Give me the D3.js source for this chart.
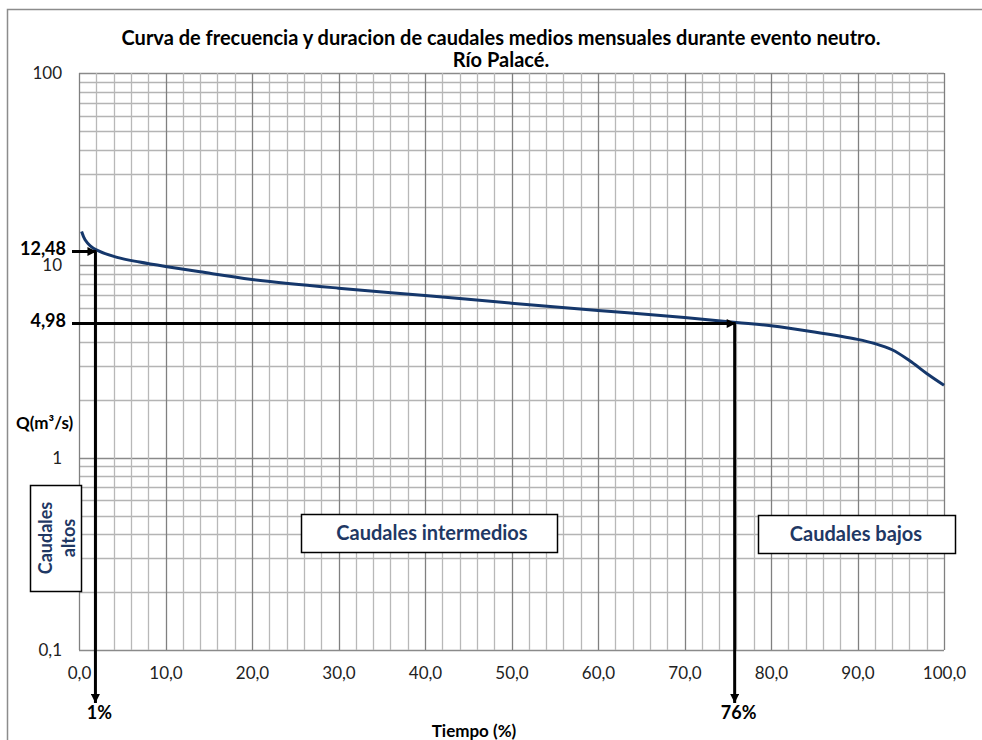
<!DOCTYPE html>
<html>
<head>
<meta charset="utf-8">
<script src="https://cdn.jsdelivr.net/npm/d3@7"></script>
<style>
  body { margin: 0; background: #fff; }
  text { font-family: Lato, "Noto Sans", sans-serif; }
</style>
</head>
<body>
<script>
// curve values
var tiempo = [0.3, 0.7, 1.3, 2, 4.4, 7, 10, 14, 20, 30, 40, 50, 60, 70, 76, 80, 85, 90, 92, 94, 96, 98, 100];
var caudal = [14.98, 13.57, 12.63, 12.03, 11.0, 10.4, 9.86, 9.25, 8.45, 7.61, 6.97, 6.36, 5.83, 5.36, 5.05, 4.85, 4.5, 4.12, 3.92, 3.64, 3.2, 2.74, 2.38];

// tick labels
var yTicks = [0.1, 1, 10, 100];
var xTicks = [0, 10, 20, 30, 40, 50, 60, 70, 80, 90, 100];

// annotation arrows (Q label, Q where drawn, % label, % where drawn)
var annotQLabel = ["12,48", "4,98"];
var annotQ = [11.8, 4.98];
var annotPctLabel = ["1%", "76%"];
var annotPct = [1.9, 75.8];

var titleLines = ["Curva de frecuencia y duracion de caudales medios mensuales durante evento neutro.", "Río Palacé."];

// set the dimensions and margins of the graph
var margin = {top: 73, right: 38, bottom: 90, left: 79},
    width = 944 - margin.left,
    height = 650 - margin.top;

var navy = "#1f3864";
var locale = d3.formatLocale({decimal: ",", thousands: ".", grouping: [3], currency: ["", ""]});

var root = d3.select("body")
  .append("svg")
    .attr("width", 982)
    .attr("height", 740);

// outer chart border
root.append("path")
  .attr("d", "M7.5,740 V9.5 H982")
  .attr("fill", "none")
  .attr("stroke", "#8c8c8c")
  .attr("stroke-width", 1.5);

var defs = root.append("defs");
defs.append("marker")
    .attr("id", "head")
    .attr("viewBox", "0 0 10 10")
    .attr("refX", 10)
    .attr("refY", 5)
    .attr("markerWidth", 11)
    .attr("markerHeight", 9)
    .attr("markerUnits", "userSpaceOnUse")
    .attr("orient", "auto")
  .append("path")
    .attr("d", "M0,0 L10,5 L0,10 Z")
    .attr("fill", "#000");

var svg = root.append("g")
    .attr("transform", "translate(" + margin.left + "," + margin.top + ")");

var x = d3.scaleLinear().domain([0, 100]).range([0, width]);
var y = d3.scaleLog().domain([0.1, 100]).range([height, 0]);

// grid
var hLines = [];
[0.1, 1, 10].forEach(function(dec) {
  for (var k = 1; k < 10; k++) hLines.push(dec * k);
});
hLines.push(100);

svg.append("g").selectAll("line")
  .data(hLines)
  .join("line")
    .attr("x1", 0)
    .attr("x2", width)
    .attr("y1", function(d) { return Math.round(y(d)) + 0.5; })
    .attr("y2", function(d) { return Math.round(y(d)) + 0.5; })
    .attr("stroke", function(d) { return yTicks.indexOf(+d.toPrecision(3)) >= 0 ? "#8a8a8a" : "#b4b4b4"; })
    .attr("stroke-width", 1.3);

svg.append("g").selectAll("line")
  .data(d3.range(0, 101, 2))
  .join("line")
    .attr("x1", function(d) { return Math.round(x(d)) + 0.5; })
    .attr("x2", function(d) { return Math.round(x(d)) + 0.5; })
    .attr("y1", 0)
    .attr("y2", height)
    .attr("stroke", function(d) { return d % 10 === 0 ? "#808080" : "#b8b8b8"; })
    .attr("stroke-width", 1.3);

// axes
var yAxis = svg.append("g")
  .call(d3.axisLeft(y).tickValues(yTicks).tickSize(0).tickPadding(17).tickFormat(locale.format("~g")));
yAxis.select(".domain").remove();
yAxis.selectAll("text").attr("font-size", 17).attr("fill", "#222").attr("font-family", "Lato");

var xAxis = svg.append("g")
  .attr("transform", "translate(0," + height + ")")
  .call(d3.axisBottom(x).tickValues(xTicks).tickSize(0).tickPadding(17).tickFormat(locale.format(".1f")));
xAxis.select(".domain").remove();
xAxis.selectAll("text").attr("font-size", 17).attr("fill", "#222").attr("font-family", "Lato");

// curve
var line = d3.line()
  .x(function(d, i) { return x(tiempo[i]); })
  .y(function(d) { return y(d); })
  .curve(d3.curveCatmullRom.alpha(0.5));

svg.append("path")
  .datum(caudal)
  .attr("d", line)
  .attr("fill", "none")
  .attr("stroke", "#15376b")
  .attr("stroke-width", 3);

// arrows
annotQ.forEach(function(q, i) {
  svg.append("line")
    .attr("x1", x(0) - 7)
    .attr("x2", x(annotPct[i]) + 1)
    .attr("y1", y(q))
    .attr("y2", y(q))
    .attr("stroke", "#000")
    .attr("stroke-width", 3)
    .attr("marker-end", "url(#head)");
  svg.append("line")
    .attr("x1", x(annotPct[i]))
    .attr("x2", x(annotPct[i]))
    .attr("y1", y(q))
    .attr("y2", height + 53)
    .attr("stroke", "#000")
    .attr("stroke-width", 3)
    .attr("marker-end", "url(#head)");
  svg.append("text")
    .attr("x", -13)
    .attr("y", y(q) + 3)
    .attr("text-anchor", "end")
    .attr("font-size", 18)
    .attr("font-weight", "bold")
    .attr("fill", "#000")
    .text(annotQLabel[i]);
  svg.append("text")
    .attr("x", x(annotPct[i]) + 4)
    .attr("y", height + 69)
    .attr("text-anchor", "middle")
    .attr("font-size", 18)
    .attr("font-weight", "bold")
    .attr("fill", "#000")
    .text(annotPctLabel[i]);
});

// zone boxes
function box(x0, y0, w, h) {
  root.append("rect")
    .attr("x", x0)
    .attr("y", y0)
    .attr("width", w)
    .attr("height", h)
    .attr("fill", "#fff")
    .attr("stroke", "#000")
    .attr("stroke-width", 1.5);
}
box(301.5, 514.5, 256, 38);
root.append("text")
  .attr("x", 432).attr("y", 540)
  .attr("text-anchor", "middle").attr("font-size", 20).attr("font-weight", "bold").attr("fill", navy)
  .text("Caudales intermedios");

box(758.5, 515.5, 197, 38);
root.append("text")
  .attr("x", 856).attr("y", 541)
  .attr("text-anchor", "middle").attr("font-size", 20).attr("font-weight", "bold").attr("fill", navy)
  .text("Caudales bajos");

box(30.5, 485.5, 51, 106);
var alt = root.append("text")
  .attr("transform", "translate(52,538) rotate(-90)")
  .attr("text-anchor", "middle").attr("font-size", 18).attr("font-weight", "bold").attr("fill", navy);
alt.append("tspan").attr("x", 0).attr("y", 0).text("Caudales");
alt.append("tspan").attr("x", 0).attr("y", 23).text("altos");

// titles
root.append("text")
  .attr("x", 16).attr("y", 429)
  .attr("font-size", 17).attr("font-weight", "bold").attr("fill", "#000")
  .text("Q(m³/s)");

root.append("text")
  .attr("x", 474).attr("y", 737)
  .attr("text-anchor", "middle").attr("font-size", 17).attr("font-weight", "bold").attr("fill", "#000")
  .text("Tiempo (%)");

root.selectAll(".title")
  .data(titleLines)
  .join("text")
    .attr("class", "title")
    .attr("x", 501)
    .attr("y", function(d, i) { return 45 + i * 22; })
    .attr("text-anchor", "middle")
    .attr("font-size", 20)
    .attr("font-weight", "bold")
    .attr("fill", "#000")
    .text(function(d) { return d; });
</script>
</body>
</html>
